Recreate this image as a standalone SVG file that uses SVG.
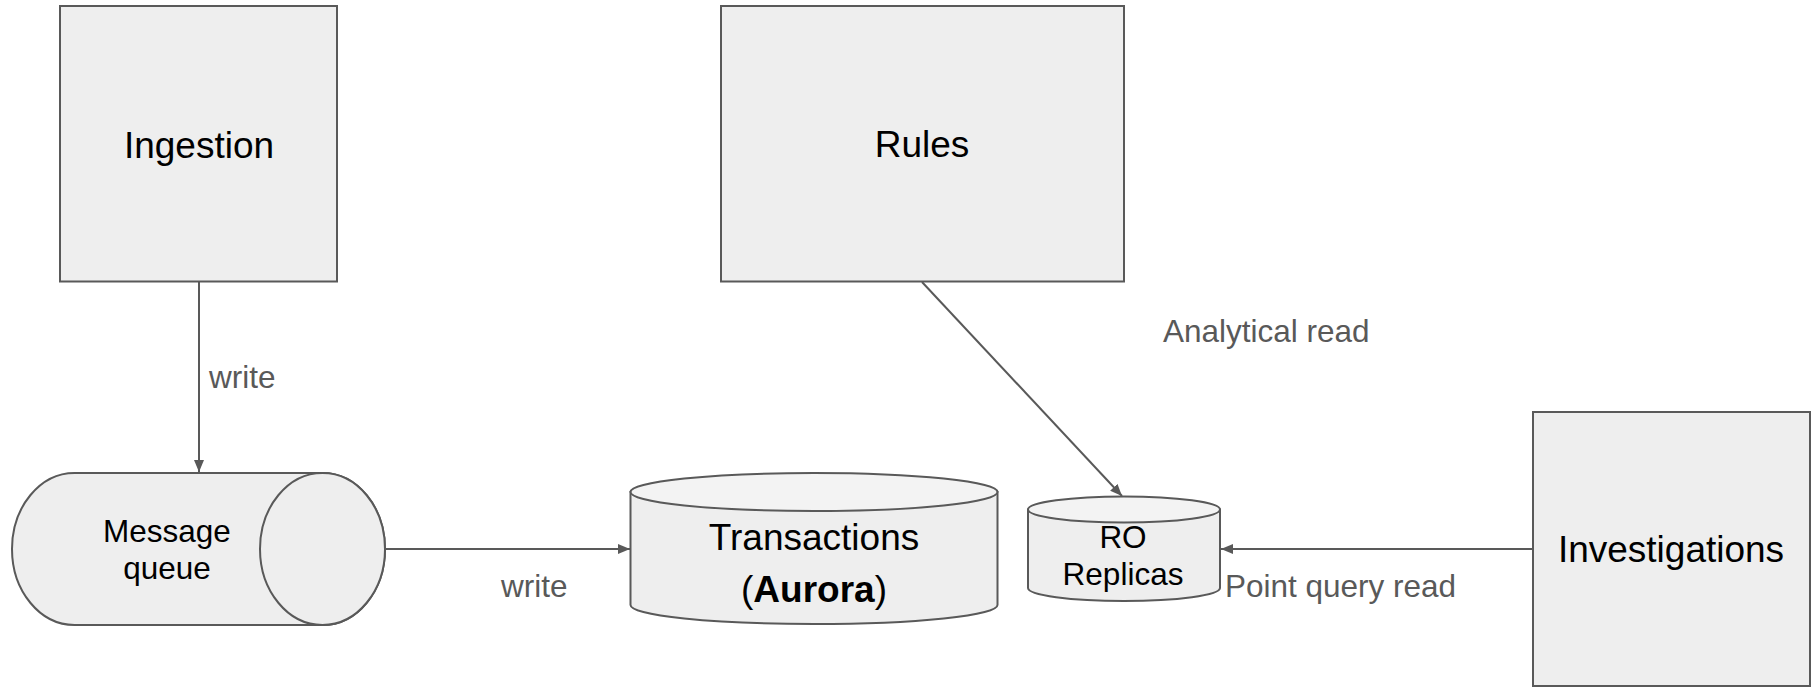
<svg xmlns="http://www.w3.org/2000/svg" width="1820" height="687" viewBox="0 0 1820 687">
  <style>
    .shape { fill: #eeeeee; stroke: #595959; stroke-width: 2; }
    .cap { fill: #f3f3f3; stroke: #595959; stroke-width: 2; }
    .node-text { font-family: "Liberation Sans", Arial, sans-serif; fill: #000000; text-anchor: middle; }
    .big { font-size: 37px; }
    .small { font-size: 31.5px; }
    .label { font-family: "Liberation Sans", Arial, sans-serif; font-size: 31.5px; fill: #595959; }
    .edge { fill: none; stroke: #595959; stroke-width: 2; }
  </style>
  <defs>
    <marker id="arrow" viewBox="0 0 12 10" refX="12" refY="5" markerWidth="12" markerHeight="10" markerUnits="userSpaceOnUse" orient="auto">
      <path d="M0,0 L12,5 L0,10 Z" fill="#595959"/>
    </marker>
  </defs>

  <rect width="1820" height="687" fill="#ffffff"/>

  <!-- connectors -->
  <g id="connectors">
    <line class="edge" x1="199" y1="282" x2="199" y2="472" marker-end="url(#arrow)"/>
    <line class="edge" x1="385" y1="549" x2="630" y2="549" marker-end="url(#arrow)"/>
    <line class="edge" x1="922" y1="282" x2="1122" y2="496" marker-end="url(#arrow)"/>
    <line class="edge" x1="1533" y1="549" x2="1221" y2="549" marker-end="url(#arrow)"/>
    <text class="label" x="209" y="388">write</text>
    <text class="label" x="501" y="597">write</text>
    <text class="label" x="1163" y="342">Analytical read</text>
    <text class="label" x="1225" y="597">Point query read</text>
  </g>

  <!-- Ingestion service -->
  <g id="ingestion">
    <rect class="shape" x="60" y="6" width="277" height="275.5"/>
    <text class="node-text big" x="199" y="158">Ingestion</text>
  </g>

  <!-- Rules service -->
  <g id="rules">
    <rect class="shape" x="721" y="6" width="403" height="275.5"/>
    <text class="node-text big" x="922" y="157">Rules</text>
  </g>

  <!-- Message queue (horizontal cylinder) -->
  <g id="message-queue">
    <path class="shape" d="M74.5,473 L322.5,473 A62.5,76 0 0 1 322.5,625 L74.5,625 A62.5,76 0 0 1 74.5,473 Z"/>
    <ellipse class="shape" cx="322.5" cy="549" rx="62.5" ry="76"/>
    <text class="node-text small" x="167" y="542">Message</text>
    <text class="node-text small" x="167" y="579">queue</text>
  </g>

  <!-- Transactions database -->
  <g id="transactions">
    <path class="shape" d="M630.5,492 L630.5,605 A183.5,19 0 0 0 997.5,605 L997.5,492 Z"/>
    <ellipse class="cap" cx="814" cy="492" rx="183.5" ry="19"/>
    <text class="node-text big" x="814" y="550">Transactions</text>
    <text class="node-text big" x="814" y="602">(<tspan font-weight="bold">Aurora</tspan>)</text>
  </g>

  <!-- Read-only replicas -->
  <g id="ro-replicas">
    <path class="shape" d="M1028,509.5 L1028,588 A96,13 0 0 0 1220,588 L1220,509.5 Z"/>
    <ellipse class="cap" cx="1124" cy="509.5" rx="96" ry="13"/>
    <text class="node-text small" x="1123" y="548">RO</text>
    <text class="node-text small" x="1123" y="585">Replicas</text>
  </g>

  <!-- Investigations service -->
  <g id="investigations">
    <rect class="shape" x="1533" y="412" width="277" height="274"/>
    <text class="node-text big" x="1671" y="562">Investigations</text>
  </g>
</svg>
